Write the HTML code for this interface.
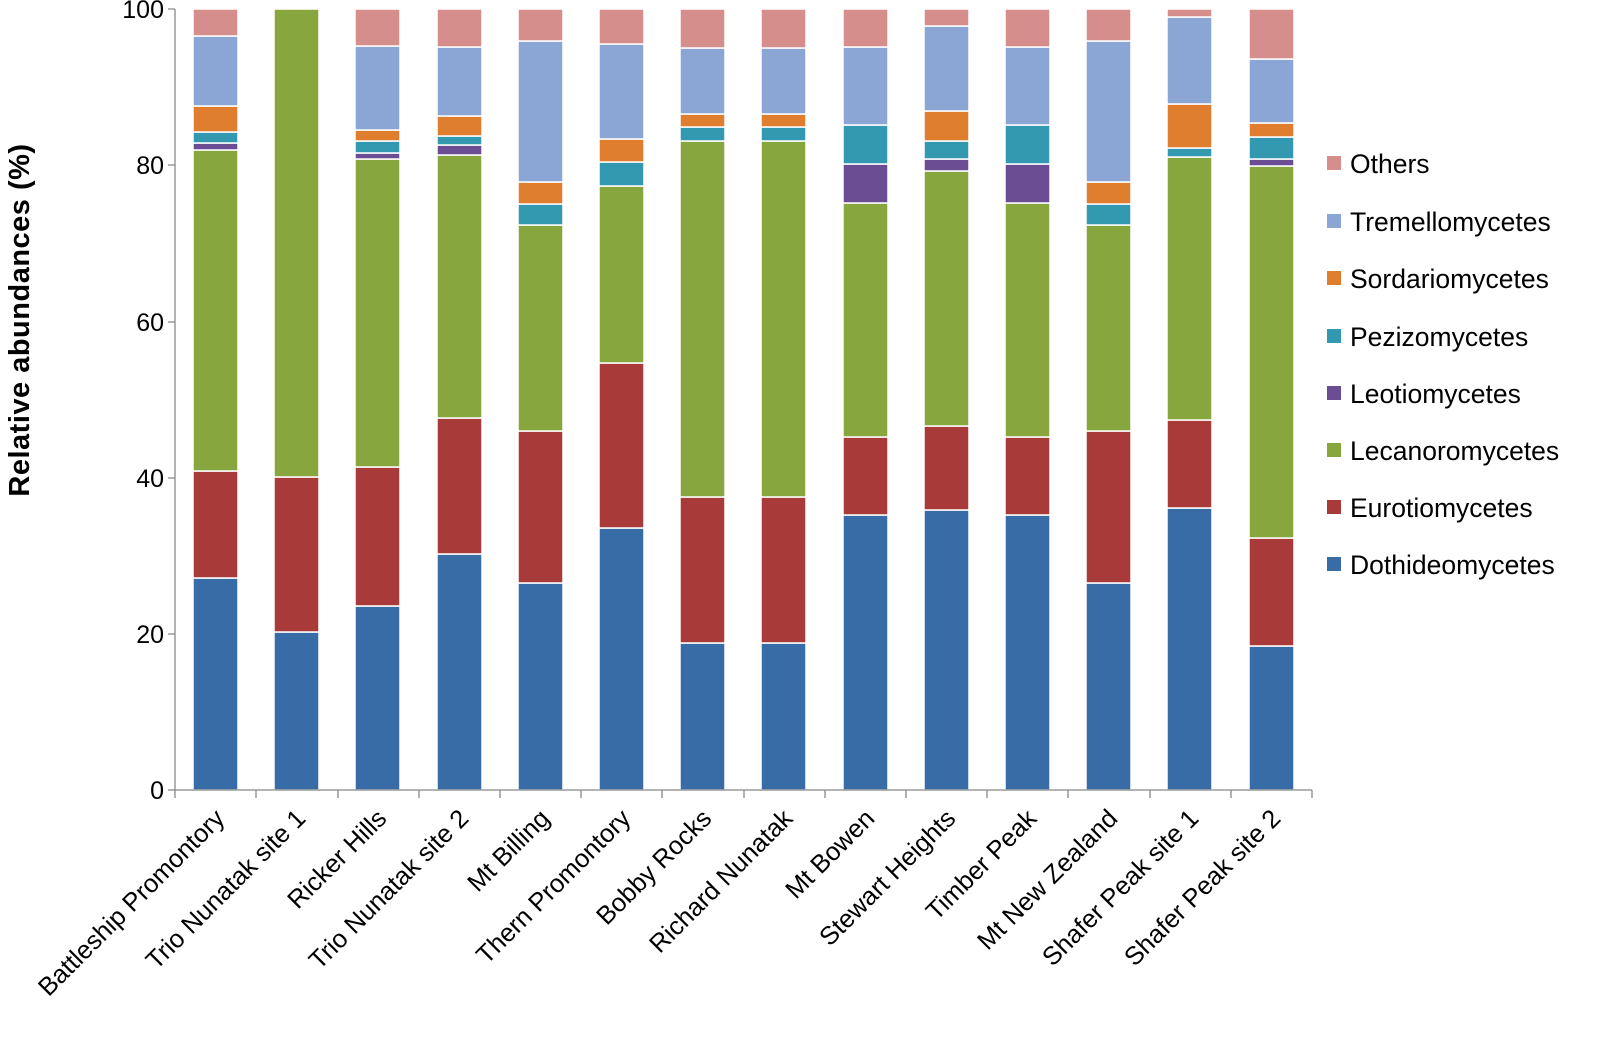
<!DOCTYPE html>
<html><head><meta charset="utf-8"><style>body{margin:0;background:#fff}svg{display:block}</style></head><body>
<svg width="1602" height="1042" viewBox="0 0 1602 1042" xmlns="http://www.w3.org/2000/svg" font-family="'Liberation Sans', sans-serif">
<g stroke="#fff" stroke-width="1.5">
<rect x="193" y="578" width="45" height="212" fill="#376CA7"/><rect x="193" y="471" width="45" height="107" fill="#A83B3A"/><rect x="193" y="150" width="45" height="321" fill="#88A63E"/><rect x="193" y="143" width="45" height="7" fill="#6A4D93"/><rect x="193" y="132" width="45" height="11" fill="#3399B0"/><rect x="193" y="106" width="45" height="26" fill="#E07E30"/><rect x="193" y="36" width="45" height="70" fill="#8BA6D5"/><rect x="193" y="9" width="45" height="27" fill="#D68E8D"/>
<rect x="274" y="632" width="45" height="158" fill="#376CA7"/><rect x="274" y="477" width="45" height="155" fill="#A83B3A"/><rect x="274" y="9" width="45" height="468" fill="#88A63E"/>
<rect x="355" y="606" width="45" height="184" fill="#376CA7"/><rect x="355" y="467" width="45" height="139" fill="#A83B3A"/><rect x="355" y="159" width="45" height="308" fill="#88A63E"/><rect x="355" y="153" width="45" height="6" fill="#6A4D93"/><rect x="355" y="141" width="45" height="12" fill="#3399B0"/><rect x="355" y="130" width="45" height="11" fill="#E07E30"/><rect x="355" y="46" width="45" height="84" fill="#8BA6D5"/><rect x="355" y="9" width="45" height="37" fill="#D68E8D"/>
<rect x="437" y="554" width="45" height="236" fill="#376CA7"/><rect x="437" y="418" width="45" height="136" fill="#A83B3A"/><rect x="437" y="155" width="45" height="263" fill="#88A63E"/><rect x="437" y="145" width="45" height="10" fill="#6A4D93"/><rect x="437" y="136" width="45" height="9" fill="#3399B0"/><rect x="437" y="116" width="45" height="20" fill="#E07E30"/><rect x="437" y="47" width="45" height="69" fill="#8BA6D5"/><rect x="437" y="9" width="45" height="38" fill="#D68E8D"/>
<rect x="518" y="583" width="45" height="207" fill="#376CA7"/><rect x="518" y="431" width="45" height="152" fill="#A83B3A"/><rect x="518" y="225" width="45" height="206" fill="#88A63E"/><rect x="518" y="204" width="45" height="21" fill="#3399B0"/><rect x="518" y="182" width="45" height="22" fill="#E07E30"/><rect x="518" y="41" width="45" height="141" fill="#8BA6D5"/><rect x="518" y="9" width="45" height="32" fill="#D68E8D"/>
<rect x="599" y="528" width="45" height="262" fill="#376CA7"/><rect x="599" y="363" width="45" height="165" fill="#A83B3A"/><rect x="599" y="186" width="45" height="177" fill="#88A63E"/><rect x="599" y="162" width="45" height="24" fill="#3399B0"/><rect x="599" y="139" width="45" height="23" fill="#E07E30"/><rect x="599" y="44" width="45" height="95" fill="#8BA6D5"/><rect x="599" y="9" width="45" height="35" fill="#D68E8D"/>
<rect x="680" y="643" width="45" height="147" fill="#376CA7"/><rect x="680" y="497" width="45" height="146" fill="#A83B3A"/><rect x="680" y="141" width="45" height="356" fill="#88A63E"/><rect x="680" y="127" width="45" height="14" fill="#3399B0"/><rect x="680" y="114" width="45" height="13" fill="#E07E30"/><rect x="680" y="48" width="45" height="66" fill="#8BA6D5"/><rect x="680" y="9" width="45" height="39" fill="#D68E8D"/>
<rect x="761" y="643" width="45" height="147" fill="#376CA7"/><rect x="761" y="497" width="45" height="146" fill="#A83B3A"/><rect x="761" y="141" width="45" height="356" fill="#88A63E"/><rect x="761" y="127" width="45" height="14" fill="#3399B0"/><rect x="761" y="114" width="45" height="13" fill="#E07E30"/><rect x="761" y="48" width="45" height="66" fill="#8BA6D5"/><rect x="761" y="9" width="45" height="39" fill="#D68E8D"/>
<rect x="843" y="515" width="45" height="275" fill="#376CA7"/><rect x="843" y="437" width="45" height="78" fill="#A83B3A"/><rect x="843" y="203" width="45" height="234" fill="#88A63E"/><rect x="843" y="164" width="45" height="39" fill="#6A4D93"/><rect x="843" y="125" width="45" height="39" fill="#3399B0"/><rect x="843" y="47" width="45" height="78" fill="#8BA6D5"/><rect x="843" y="9" width="45" height="38" fill="#D68E8D"/>
<rect x="924" y="510" width="45" height="280" fill="#376CA7"/><rect x="924" y="426" width="45" height="84" fill="#A83B3A"/><rect x="924" y="171" width="45" height="255" fill="#88A63E"/><rect x="924" y="159" width="45" height="12" fill="#6A4D93"/><rect x="924" y="141" width="45" height="18" fill="#3399B0"/><rect x="924" y="111" width="45" height="30" fill="#E07E30"/><rect x="924" y="26" width="45" height="85" fill="#8BA6D5"/><rect x="924" y="9" width="45" height="17" fill="#D68E8D"/>
<rect x="1005" y="515" width="45" height="275" fill="#376CA7"/><rect x="1005" y="437" width="45" height="78" fill="#A83B3A"/><rect x="1005" y="203" width="45" height="234" fill="#88A63E"/><rect x="1005" y="164" width="45" height="39" fill="#6A4D93"/><rect x="1005" y="125" width="45" height="39" fill="#3399B0"/><rect x="1005" y="47" width="45" height="78" fill="#8BA6D5"/><rect x="1005" y="9" width="45" height="38" fill="#D68E8D"/>
<rect x="1086" y="583" width="45" height="207" fill="#376CA7"/><rect x="1086" y="431" width="45" height="152" fill="#A83B3A"/><rect x="1086" y="225" width="45" height="206" fill="#88A63E"/><rect x="1086" y="204" width="45" height="21" fill="#3399B0"/><rect x="1086" y="182" width="45" height="22" fill="#E07E30"/><rect x="1086" y="41" width="45" height="141" fill="#8BA6D5"/><rect x="1086" y="9" width="45" height="32" fill="#D68E8D"/>
<rect x="1167" y="508" width="45" height="282" fill="#376CA7"/><rect x="1167" y="420" width="45" height="88" fill="#A83B3A"/><rect x="1167" y="157" width="45" height="263" fill="#88A63E"/><rect x="1167" y="148" width="45" height="9" fill="#3399B0"/><rect x="1167" y="104" width="45" height="44" fill="#E07E30"/><rect x="1167" y="17" width="45" height="87" fill="#8BA6D5"/><rect x="1167" y="9" width="45" height="8" fill="#D68E8D"/>
<rect x="1249" y="646" width="45" height="144" fill="#376CA7"/><rect x="1249" y="538" width="45" height="108" fill="#A83B3A"/><rect x="1249" y="166" width="45" height="372" fill="#88A63E"/><rect x="1249" y="159" width="45" height="7" fill="#6A4D93"/><rect x="1249" y="137" width="45" height="22" fill="#3399B0"/><rect x="1249" y="123" width="45" height="14" fill="#E07E30"/><rect x="1249" y="59" width="45" height="64" fill="#8BA6D5"/><rect x="1249" y="9" width="45" height="50" fill="#D68E8D"/>
</g>
<g stroke="#888" stroke-width="1.3" fill="none">
<path d="M175 9V790H1312"/>
<path d="M168 790H175M168 634H175M168 478H175M168 322H175M168 165H175M168 9H175"/>
<path d="M175 790v8M256 790v8M338 790v8M419 790v8M500 790v8M581 790v8M662 790v8M744 790v8M825 790v8M906 790v8M987 790v8M1068 790v8M1150 790v8M1231 790v8M1312 790v8"/>
</g>
<g font-size="25" fill="#000" text-anchor="end">
<text x="164" y="799">0</text><text x="164" y="643">20</text><text x="164" y="487">40</text><text x="164" y="331">60</text><text x="164" y="174">80</text><text x="164" y="18">100</text>
</g>
<text transform="translate(29,320) rotate(-90)" text-anchor="middle" font-size="29" font-weight="bold" letter-spacing="0.5">Relative abundances (%)</text>
<g font-size="25.5" text-anchor="end">
<text transform="translate(226,820) rotate(-45)">Battleship Promontory</text>
<text transform="translate(307,820) rotate(-45)">Trio Nunatak site 1</text>
<text transform="translate(388,820) rotate(-45)">Ricker Hills</text>
<text transform="translate(470,820) rotate(-45)">Trio Nunatak site 2</text>
<text transform="translate(551,820) rotate(-45)">Mt Billing</text>
<text transform="translate(632,820) rotate(-45)">Thern Promontory</text>
<text transform="translate(713,820) rotate(-45)">Bobby Rocks</text>
<text transform="translate(794,820) rotate(-45)">Richard Nunatak</text>
<text transform="translate(876,820) rotate(-45)">Mt Bowen</text>
<text transform="translate(957,820) rotate(-45)">Stewart Heights</text>
<text transform="translate(1038,820) rotate(-45)">Timber Peak</text>
<text transform="translate(1119,820) rotate(-45)">Mt New Zealand</text>
<text transform="translate(1200,820) rotate(-45)">Shafer Peak site 1</text>
<text transform="translate(1282,820) rotate(-45)">Shafer Peak site 2</text>
</g>
<g font-size="26.5">
<rect x="1327" y="156" width="14" height="14" fill="#D68E8D"/><text x="1350" y="173">Others</text>
<rect x="1327" y="214" width="14" height="14" fill="#8BA6D5"/><text x="1350" y="231">Tremellomycetes</text>
<rect x="1327" y="271" width="14" height="14" fill="#E07E30"/><text x="1350" y="288">Sordariomycetes</text>
<rect x="1327" y="329" width="14" height="14" fill="#3399B0"/><text x="1350" y="346">Pezizomycetes</text>
<rect x="1327" y="386" width="14" height="14" fill="#6A4D93"/><text x="1350" y="403">Leotiomycetes</text>
<rect x="1327" y="443" width="14" height="14" fill="#88A63E"/><text x="1350" y="460">Lecanoromycetes</text>
<rect x="1327" y="500" width="14" height="14" fill="#A83B3A"/><text x="1350" y="517">Eurotiomycetes</text>
<rect x="1327" y="557" width="14" height="14" fill="#376CA7"/><text x="1350" y="574">Dothideomycetes</text>
</g>
</svg>
</body></html>
